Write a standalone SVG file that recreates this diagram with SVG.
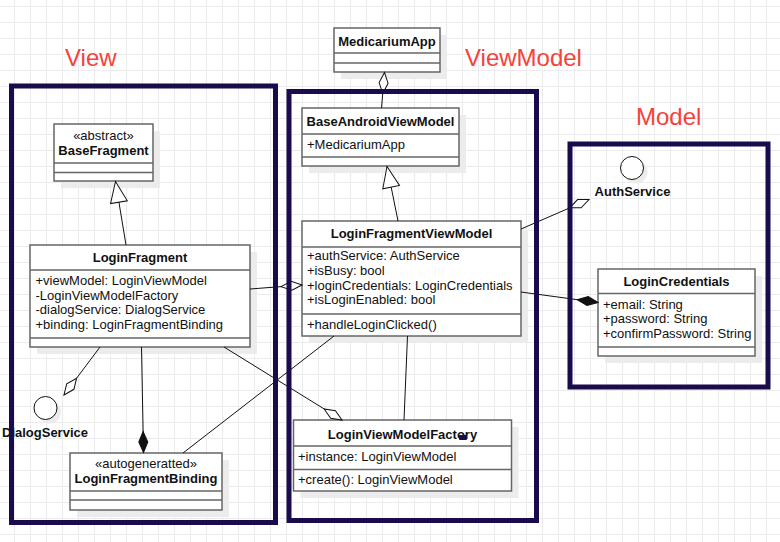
<svg xmlns="http://www.w3.org/2000/svg" width="780" height="542" viewBox="0 0 780 542">
<defs>
<pattern id="grid" width="16" height="16" patternUnits="userSpaceOnUse">
<path d="M14.5,0 V16 M0,6.5 H16" stroke="#ebebeb" stroke-width="1" fill="none"/>
</pattern>
<marker id="tri" markerUnits="userSpaceOnUse" orient="auto" refX="0" refY="0" markerWidth="30" markerHeight="30" overflow="visible">
<path d="M0,0 L-21,-8.5 L-21,8.5 Z" fill="#fff" stroke="#111" stroke-width="1"/>
</marker>
<marker id="odia" markerUnits="userSpaceOnUse" orient="auto" refX="0" refY="0" markerWidth="30" markerHeight="30" overflow="visible">
<path d="M0,0 L-10.5,-4.5 L-21,0 L-10.5,4.5 Z" fill="#fff" stroke="#111" stroke-width="1"/>
</marker>
<marker id="fdia" markerUnits="userSpaceOnUse" orient="auto" refX="0" refY="0" markerWidth="30" markerHeight="30" overflow="visible">
<path d="M0,0 L-10.5,-4.5 L-21,0 L-10.5,4.5 Z" fill="#111" stroke="#111" stroke-width="1"/>
</marker>
</defs>
<style>
.box{fill:#fff;stroke:#666;stroke-width:1.5}
.shadow{fill:#ececec}
.div{stroke:#666;stroke-width:1.5}
.t{font-family:"Liberation Sans",Arial,sans-serif;font-size:13px;fill:#111}
.b{font-weight:bold}
.c{text-anchor:middle}
.conn{stroke:#111;stroke-width:1;fill:none}
.frame{fill:none;stroke:#1a0b4d;stroke-width:5}
.lbl{font-family:"Liberation Sans",Arial,sans-serif;font-size:24px;fill:#f5423a}
</style>
<rect width="780" height="542" fill="#fff"/>
<rect width="780" height="542" fill="url(#grid)"/>

<g id="MedicariumApp">
<rect class="shadow" x="341" y="35" width="106" height="44"/>
<rect class="box" x="334" y="28" width="106" height="44"/>
<line class="div" x1="334" y1="53" x2="440" y2="53"/>
<line class="div" x1="334" y1="63" x2="440" y2="63"/>
<text class="t b c" x="387" y="46">MedicariumApp</text>
</g>

<g id="BaseAndroidViewModel">
<rect class="shadow" x="309" y="115" width="157" height="58"/>
<rect class="box" x="302" y="108" width="157" height="58"/>
<line class="div" x1="302" y1="134" x2="459" y2="134"/>
<line class="div" x1="302" y1="157" x2="459" y2="157"/>
<text class="t b c" x="380.5" y="126">BaseAndroidViewModel</text>
<text class="t" x="307" y="149">+MedicariumApp</text>
</g>

<g id="BaseFragment">
<rect class="shadow" x="61" y="131" width="99" height="57"/>
<rect class="box" x="54" y="124" width="99" height="57"/>
<line class="div" x1="54" y1="163" x2="153" y2="163"/>
<line class="div" x1="54" y1="172.5" x2="153" y2="172.5"/>
<text class="t c" x="103.5" y="140">«abstract»</text>
<text class="t b c" x="103.5" y="155">BaseFragment</text>
</g>

<g id="LoginFragment">
<rect class="shadow" x="37" y="252" width="220" height="102"/>
<rect class="box" x="30" y="245" width="220" height="102"/>
<line class="div" x1="30" y1="270" x2="250" y2="270"/>
<line class="div" x1="30" y1="338" x2="250" y2="338"/>
<text class="t b c" x="140" y="262">LoginFragment</text>
<text class="t" x="35.5" y="285">+viewModel: LoginViewModel</text>
<text class="t" x="35.5" y="299.5">-LoginViewModelFactory</text>
<text class="t" x="35.5" y="314">-dialogService: DialogService</text>
<text class="t" x="35.5" y="328.5">+binding: LoginFragmentBinding</text>
</g>

<g id="DialogService">
<circle class="shadow" cx="49.5" cy="412" r="11.5"/>
<circle cx="45.5" cy="408" r="11.5" fill="#fff" stroke="#111" stroke-width="1"/>
<text class="t b c" x="45" y="437">DialogService</text>
</g>

<g id="LoginFragmentBinding">
<rect class="shadow" x="77" y="460" width="152" height="57"/>
<rect class="box" x="70" y="453" width="152" height="57"/>
<line class="div" x1="70" y1="491" x2="222" y2="491"/>
<line class="div" x1="70" y1="500" x2="222" y2="500"/>
<text class="t c" x="146" y="468">«autogeneratted»</text>
<text class="t b c" x="146" y="482.5">LoginFragmentBinding</text>
</g>

<g id="LoginFragmentViewModel">
<rect class="shadow" x="309" y="228" width="219" height="115"/>
<rect class="box" x="302" y="221" width="219" height="115"/>
<line class="div" x1="302" y1="247" x2="521" y2="247"/>
<line class="div" x1="302" y1="314" x2="521" y2="314"/>
<text class="t b c" x="411.5" y="237.5">LoginFragmentViewModel</text>
<text class="t" x="307" y="260">+authService: AuthService</text>
<text class="t" x="307" y="275">+isBusy: bool</text>
<text class="t" x="307" y="289.5">+loginCredentials: LoginCredentials</text>
<text class="t" x="307" y="304">+isLoginEnabled: bool</text>
<text class="t" x="307" y="328.5">+handleLoginClicked()</text>
</g>

<g id="LoginViewModelFactory">
<rect class="shadow" x="300.5" y="427" width="218" height="71"/>
<rect class="box" x="293.5" y="420" width="218" height="71"/>
<line class="div" x1="293.5" y1="446" x2="511.5" y2="446"/>
<line class="div" x1="293.5" y1="469.5" x2="511.5" y2="469.5"/>
<text class="t b c" x="402.5" y="438.5">LoginViewModelFactory</text>
<text class="t" x="298" y="461">+instance: LoginViewModel</text>
<text class="t" x="298" y="483.5">+create(): LoginViewModel</text>
<rect x="459" y="435" width="8" height="5" rx="1" fill="#1a0b4d"/>
</g>

<g id="AuthService">
<circle class="shadow" cx="636" cy="172" r="11.5"/>
<circle cx="632" cy="168" r="11.5" fill="#fff" stroke="#111" stroke-width="1"/>
<text class="t b c" x="632.5" y="196">AuthService</text>
</g>

<g id="LoginCredentials">
<rect class="shadow" x="605" y="276" width="157" height="87"/>
<rect class="box" x="598" y="269" width="157" height="87"/>
<line class="div" x1="598" y1="293.5" x2="755" y2="293.5"/>
<line class="div" x1="598" y1="347" x2="755" y2="347"/>
<text class="t b c" x="676.5" y="286">LoginCredentials</text>
<text class="t" x="603" y="308.5">+email: String</text>
<text class="t" x="603" y="323">+password: String</text>
<text class="t" x="603" y="337.5">+confirmPassword: String</text>
</g>

<g id="connectors">
<path class="conn" d="M381.5,108 L384.5,72.5" marker-end="url(#odia)"/>
<path class="conn" d="M398,221 L387,166.5" marker-end="url(#tri)"/>
<path class="conn" d="M126,245 L115.5,181.5" marker-end="url(#tri)"/>
<path class="conn" d="M100,347 L64,395" marker-end="url(#odia)"/>
<path class="conn" d="M141.5,347 L143.5,452.5" marker-end="url(#fdia)"/>
<path class="conn" d="M183,453 L334,336"/>
<path class="conn" d="M224,347 L342,420" marker-end="url(#odia)"/>
<path class="conn" d="M250,289 L302,285" marker-end="url(#odia)"/>
<path class="conn" d="M521,229 L589,199.5" marker-end="url(#odia)"/>
<path class="conn" d="M521,292 L598,302.5" marker-end="url(#fdia)"/>
<path class="conn" d="M407.5,336 L404,420"/>
</g>

<g id="frames">
<rect class="frame" x="11.5" y="86" width="264" height="436.5"/>
<rect class="frame" x="289" y="91.5" width="247.5" height="429"/>
<rect class="frame" x="570" y="144" width="198" height="243"/>
</g>

<g id="labels">
<text class="lbl" x="65" y="66">View</text>
<text class="lbl" x="465" y="66">ViewModel</text>
<text class="lbl" x="636" y="125">Model</text>
</g>
</svg>
